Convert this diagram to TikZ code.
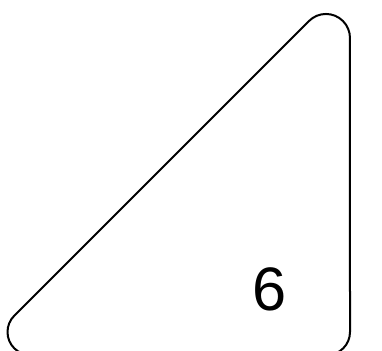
\documentclass[tikz,border=0pt]{standalone}
\usepackage{fontspec}
\setmainfont{Liberation Sans}
\begin{document}
\begin{tikzpicture}[x=0.75pt, y=0.75pt,
  piece/.style={draw=black, line width=1.5pt, line join=round},
  num/.style={font=\fontsize{46}{54}\selectfont, inner sep=0pt, anchor=base}]
\useasboundingbox (0,0) rectangle (382,350);
\clip (0,0) rectangle (382,350);
% Piece outline
\draw[piece] (309,329) arc[start angle=135, end angle=0, radius=24]
  -- (350,18) arc[start angle=0, end angle=-90, radius=23]
  -- (30.5,-5) arc[start angle=270, end angle=135, radius=23] -- cycle;
% Label
\node[num] (lbl) at (270,39.5) {6};
\end{tikzpicture}
\end{document}
